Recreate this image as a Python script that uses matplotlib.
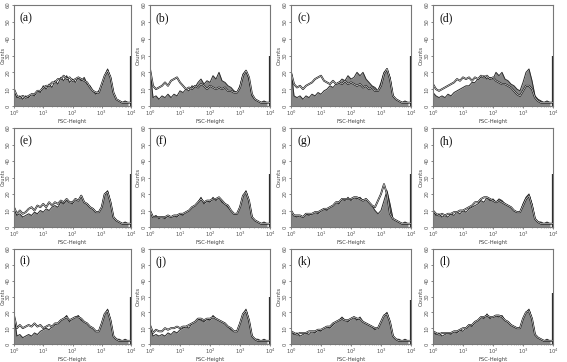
import numpy as np
import matplotlib
matplotlib.use("Agg")
import matplotlib.pyplot as plt
import matplotlib.patheffects as pe

# ------------------- Channel positions (log FSC) -------------------
fsc = 10 ** (np.arange(41) * 0.1)

labels = ["(a)", "(b)", "(c)", "(d)", "(e)", "(f)",
          "(g)", "(h)", "(i)", "(j)", "(k)", "(l)"]

# ------------------- Grey (filled) histograms -------------------
# last value is the pile-up spike in the top channel
a_grey = [10,5,6,4,6,5,7,6,9,8,12,10,13,11,15,13,17,15,18,14,16,14,17,15,17,13,12,9,7,9,12,18,22,17,8,4,3,2,3,2,30]
b_grey = [22,5,6,4,6,5,7,5,7,6,9,8,10,9,12,11,14,16,13,15,14,18,16,20,15,14,12,11,9,8,12,19,21,16,6,4,3,2,3,2,30]
c_grey = [22,6,5,6,4,6,5,7,6,8,7,9,10,12,11,13,14,16,15,18,16,17,20,18,20,16,14,12,11,9,14,20,22,17,6,4,3,2,3,2,30]
d_grey = [8,6,5,6,5,7,6,8,9,10,11,12,12,14,14,16,17,18,16,17,16,20,18,20,16,15,13,12,10,9,14,20,22,15,6,4,3,2,3,2,30]
e_grey = [12,7,8,6,7,8,7,9,8,10,9,11,10,12,13,12,15,14,16,15,14,17,16,19,15,14,12,11,9,9,12,20,22,15,6,4,3,2,3,2,32]
f_grey = [10,6,7,5,6,5,7,6,7,6,8,7,9,10,12,13,15,18,14,16,15,18,16,18,15,14,12,10,8,8,12,19,22,16,6,4,3,2,3,2,32]
g_grey = [10,7,6,7,6,8,7,8,9,8,10,11,10,12,13,15,14,17,16,18,16,18,17,18,16,17,15,13,10,8,10,16,22,14,5,4,3,2,3,2,32]
h_grey = [10,7,8,6,7,6,8,7,9,8,10,9,11,12,13,14,16,15,18,16,17,15,17,16,14,13,12,10,9,9,14,18,20,14,5,3,3,2,3,2,32]
i_grey = [18,5,6,4,5,6,5,7,6,8,9,10,9,11,12,13,15,16,18,14,16,17,18,15,14,13,11,10,8,8,13,19,22,15,5,3,3,2,3,2,30]
j_grey = [12,5,6,5,6,5,7,6,8,7,9,10,11,10,13,14,16,15,14,16,15,18,16,15,14,13,11,9,8,8,13,19,22,15,5,3,3,2,3,2,30]
k_grey = [8,6,7,5,6,7,6,8,7,9,8,10,11,10,12,14,15,17,15,14,16,17,15,17,14,13,12,11,9,10,14,18,20,14,5,3,3,2,3,2,28]
l_grey = [8,6,7,5,6,7,6,8,7,9,8,10,12,11,14,15,17,16,19,16,17,18,17,18,15,14,12,11,10,10,16,20,22,16,6,4,3,2,3,2,32]

# ------------------- Overlay (open) histograms -------------------
a_line = [10,6,5,6,5,6,7,7,9,9,11,12,12,14,14,16,16,18,16,17,15,16,17,16,15,14,11,9,8,8,13,18,21,17,8,4,3,2,2,2,2]
b_line = [22,12,10,11,12,14,12,15,16,17,14,12,10,11,10,12,11,13,12,10,12,11,10,11,10,11,9,9,8,8,11,18,21,17,7,4,3,2,2,2,2]
c_line = [20,13,11,12,10,12,13,14,16,17,18,15,14,13,15,13,14,13,15,13,14,13,12,13,11,12,10,11,9,9,12,19,22,16,6,4,3,2,2,2,2]
d_line = [13,10,9,10,11,12,13,14,16,15,17,16,17,15,17,16,18,17,18,16,17,15,14,13,13,12,11,9,7,6,9,12,12,10,5,3,2,2,2,2,2]
e_line = [12,8,10,8,9,11,12,10,13,12,14,12,15,13,15,14,16,15,17,15,15,17,16,19,15,14,12,11,9,9,12,20,21,15,6,4,3,2,2,2,2]
f_line = [10,6,6,6,6,6,7,6,7,7,8,8,9,10,12,13,15,17,15,16,16,17,17,18,16,14,13,10,8,8,12,19,21,16,6,4,3,2,2,2,2]
g_line = [10,7,7,7,6,8,8,8,9,9,10,11,11,12,13,15,15,17,17,17,17,18,18,17,16,17,15,13,12,16,20,26,20,8,5,4,3,2,2,2,2]
h_line = [10,8,7,8,7,8,8,9,9,10,10,11,12,13,15,15,17,18,18,17,16,15,16,15,14,13,12,10,9,9,13,17,19,13,5,3,2,2,2,2,2]
i_line = [18,10,12,10,11,12,11,13,11,12,10,11,12,11,13,13,15,16,17,15,16,17,17,16,14,13,11,10,8,8,13,19,21,15,5,3,2,2,2,2,2]
j_line = [12,7,9,8,8,10,9,10,10,11,10,11,11,12,13,14,16,16,15,16,16,17,16,15,14,13,11,10,8,8,13,19,21,15,5,3,2,2,2,2,2]
k_line = [8,7,6,7,7,7,8,8,8,9,9,10,11,11,13,14,15,16,15,15,16,17,16,16,14,13,12,11,10,10,14,18,19,14,5,3,2,2,2,2,2]
l_line = [8,7,6,7,7,7,7,8,8,9,10,10,12,12,14,15,17,17,18,17,17,18,18,17,15,14,12,11,10,10,16,20,21,16,6,4,3,2,2,2,2]

greys = [a_grey, b_grey, c_grey, d_grey, e_grey, f_grey,
         g_grey, h_grey, i_grey, j_grey, k_grey, l_grey]
lines = [a_line, b_line, c_line, d_line, e_line, f_line,
         g_line, h_line, i_line, j_line, k_line, l_line]

# ------------------- Layout (pixels) -------------------
W, H = 567, 362
col_left = [14, 150, 291, 433]
col_width = [117, 120, 120, 120]
row_top = [5, 128, 249]
row_height = [101, 99, 95]

fig = plt.figure(figsize=(W / 100, H / 100), dpi=100)

for idx in range(12):
    r, c = divmod(idx, 4)
    ax = fig.add_axes([col_left[c] / W, 1 - (row_top[r] + row_height[r]) / H,
                       col_width[c] / W, row_height[r] / H])

    g = greys[idx]
    ax.fill_between(fsc[:-1], g[:-1], color="#858585", lw=0)
    ax.plot(fsc[:-1], g[:-1], color="#2a2a2a", lw=0.7)
    ax.vlines(fsc[-1], 0, g[-1], color="#2a2a2a", lw=1.6)
    ax.plot(fsc, lines[idx], color="white", lw=0.4,
            path_effects=[pe.Stroke(linewidth=1.3, foreground="#111111"), pe.Normal()])

    ax.set_xscale("log")
    ax.set_xlim(1, 1e4)
    ax.set_ylim(0, 60)
    ax.set_yticks(np.arange(0, 61, 10))
    ax.set_xticks([1, 10, 100, 1000, 10000])
    ax.set_xticklabels([r"$10^0$", r"$10^1$", r"$10^2$", r"$10^3$", r"$10^4$"])
    ax.tick_params(axis="both", labelsize=3.8, length=1.5, width=0.5,
                   colors="#555555", pad=0.8)
    ax.tick_params(axis="y", labelrotation=90)
    ax.tick_params(axis="x", which="minor", length=1, width=0.4, colors="#777777")
    for lab in ax.get_yticklabels():
        lab.set_va("center")

    ax.set_xlabel("FSC-Height", fontsize=3.8, color="#444444", labelpad=0.3)
    if c == 0:
        ax.set_ylabel("Counts", fontsize=3.5, color="#444444")
        ax.yaxis.set_label_coords(-8.5 / col_width[c], 0.5)
    else:
        ax.set_ylabel("Counts", fontsize=4, color="#444444", labelpad=0.6)

    for sp in ax.spines.values():
        sp.set_color("#777777")
        sp.set_linewidth(0.8)

    ax.text(0.05, 0.93, labels[idx], transform=ax.transAxes, ha="left", va="top",
            fontsize=8.5, family="Liberation Serif", color="#111111")

fig.savefig("out.png", dpi=100)
